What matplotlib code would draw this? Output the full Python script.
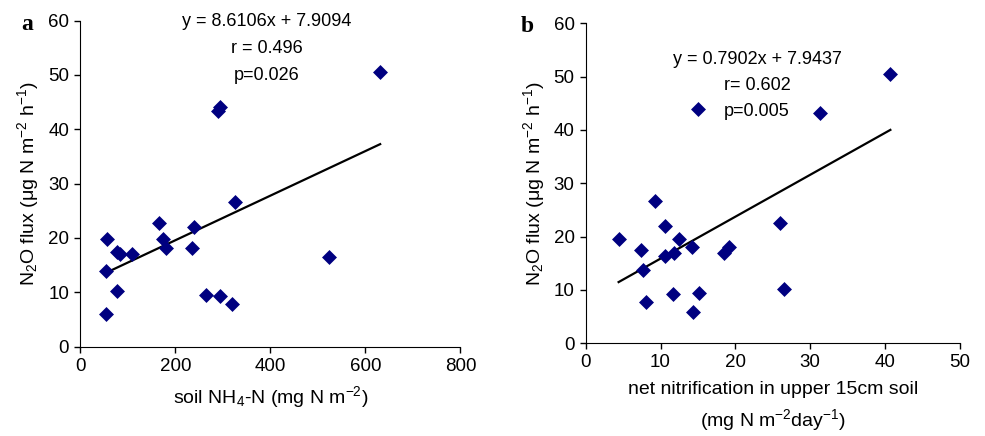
import matplotlib
matplotlib.use("Agg")
import matplotlib.pyplot as plt
import numpy as np

plt.rcParams["font.family"] = ["Liberation Sans", "DejaVu Sans"]
plt.rcParams["mathtext.fontset"] = "custom"
plt.rcParams["mathtext.rm"] = "Liberation Sans"
plt.rcParams["mathtext.default"] = "regular"

# panel a: soil NH4-N vs N2O flux
nh4_x = [631, 290, 294, 326, 165.5, 240, 175, 179.5, 236, 56.8,
         77.8, 83.5, 108, 54, 77.8, 54, 265, 294, 320, 523]
nh4_y = [50.5, 43.4, 44.1, 26.6, 22.7, 22.0, 19.8, 18.1, 18.1, 19.8,
         17.4, 17.1, 17.1, 13.9, 10.3, 6.0, 9.6, 9.3, 7.9, 16.5]

# panel b: net nitrification vs N2O flux
nit_x = [40.7, 15.05, 31.3, 9.2, 26.0, 10.6, 4.4, 12.5, 7.4, 14.2,
         11.8, 10.6, 18.5, 19.1, 7.7, 8.05, 11.6, 15.1, 14.4, 26.5]
nit_y = [50.5, 43.9, 43.25, 26.6, 22.6, 21.9, 19.6, 19.6, 17.4, 18.0,
         17.0, 16.3, 17.0, 18.0, 13.75, 7.8, 9.2, 9.4, 5.9, 10.1]

ylabel = "N$_2$O flux (μg N m$^{-2}$ h$^{-1}$)"
panels = [
    dict(x=nh4_x, y=nh4_y, pos=[0.0815, 0.2048, 0.386, 0.748], xlim=(0, 800),
         xticks=[0, 200, 400, 600, 800], letter="a", letter_x=27, letter_y=25,
         xlabel="soil NH$_4$-N (mg N m$^{-2}$)",
         stats=["y = 8.6106x + 7.9094", "r = 0.496", "p=0.026"],
         stat_x=267, stat_y=22),
    dict(x=nit_x, y=nit_y, pos=[0.5946, 0.2126, 0.380, 0.734], xlim=(0, 50),
         xticks=[0, 10, 20, 30, 40, 50], letter="b", letter_x=527, letter_y=27,
         xlabel="net nitrification in upper 15cm soil\n(mg N m$^{-2}$day$^{-1}$)",
         stats=["y = 0.7902x + 7.9437", "r= 0.602", "p=0.005"],
         stat_x=757, stat_y=59),
]

W, H = 985, 436
fig = plt.figure(figsize=(W / 100, H / 100), dpi=100)

for p in panels:
    ax = fig.add_axes(p["pos"])
    x = np.array(p["x"])
    y = np.array(p["y"])
    ax.scatter(x, y, marker="D", s=58, color="#000080", zorder=3, linewidths=0)
    k, b = np.polyfit(x, y, 1)
    xs = np.array([x.min(), x.max()])
    ax.plot(xs, k * xs + b, color="black", lw=1.6, zorder=2)
    ax.set_xlim(*p["xlim"])
    ax.set_ylim(0, 60)
    ax.set_xticks(p["xticks"])
    ax.set_yticks(range(0, 61, 10))
    ax.spines["top"].set_visible(False)
    ax.spines["right"].set_visible(False)
    ax.tick_params(direction="out", length=4, width=1, labelsize=13.5, pad=4)
    ax.set_ylabel(ylabel, fontsize=14, labelpad=5)
    ax.set_xlabel(p["xlabel"], fontsize=14, labelpad=7, linespacing=1.45)
    for i, s in enumerate(p["stats"]):
        fig.text(p["stat_x"] / W, 1 - (p["stat_y"] + i * 26.5) / H, s,
                 ha="center", va="center", fontsize=13)
    fig.text(p["letter_x"] / W, 1 - p["letter_y"] / H, p["letter"], fontsize=17,
             fontweight="bold", family="Liberation Serif", ha="center", va="center")

fig.savefig("out.png", dpi=100)
